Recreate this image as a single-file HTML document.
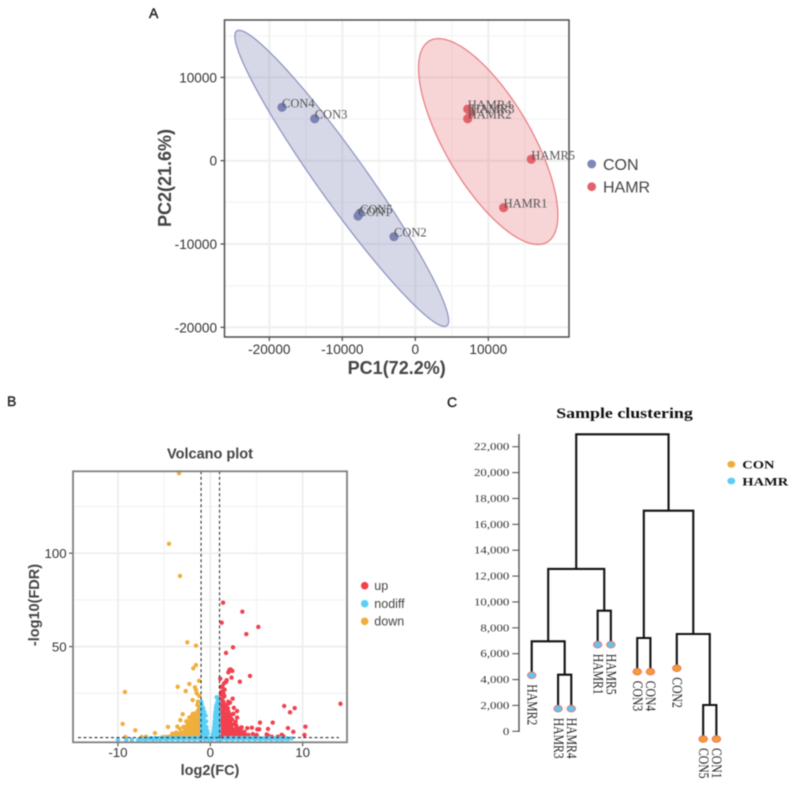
<!DOCTYPE html>
<html lang="en">
<head>
<meta charset="utf-8">
<title>PCA, volcano plot and sample clustering</title>
<style>
html,body{margin:0;padding:0;background:#fff;}
#figure{display:block;width:797px;height:786px;filter:blur(0.4px);}
text{font-family:"Liberation Sans",sans-serif;}
.serif{font-family:"Liberation Serif",serif;}
</style>
</head>
<body>
<svg id="figure" xmlns="http://www.w3.org/2000/svg" width="797" height="786" viewBox="0 0 797 786">
  <g id="panelA"></g>
  <g id="panelB"></g>
  <g id="panelC"></g>
</svg>
<script>
/* ---------- Panel A data ---------- */
const conNames=['CON1','CON2','CON3','CON4','CON5'];
const conPC1=[-7850,-2920,-13780,-18260,-7570];
const conPC2=[-6640,-9120,5040,6410,-6310];
const hamrNames=['HAMR1','HAMR2','HAMR3','HAMR4','HAMR5'];
const hamrPC1=[12100,7180,7590,7180,15890];
const hamrPC2=[-5640,5040,5720,6200,170];
const pcaXTicks=[-20000,-10000,0,10000];
const pcaYTicks=[-20000,-10000,0,10000];
const pcaXMinor=[-15000,-5000,5000,15000];
const pcaYMinor=[-15000,-5000,5000,15000];

/* ---------- Panel B data: [log2(FC), -log10(FDR)] ---------- */
const volcanoXTicks=[-10,0,10];
const volcanoYTicks=[50,100];
const volcanoXMinor=[-5,5];
const volcanoYMinor=[25,75,125];
const fcCutoffs=[-1,1];
const fdrCutoff=1.3;
const upPoints=[[1.38,73.5],[3.47,68.7],[1.23,62.8],[5.2,60.5],[3.9,56.7],[2.46,49.6],[1.7,46.6],[2.06,37.5],[2.2,37.8],[2.38,37],[1.95,36.2],[4.3,34.3],[2.3,33.4],[1.08,32.8],[3.2,31.2],[1.7,31.2],[1.48,30.3],[1.3,28.5],[1.13,28.5],[1.77,32],[1.23,25.9],[1.41,25],[1.48,23.2],[2.42,22.1],[1.95,20.5],[14.1,19.4],[8,18.2],[9.14,17.1],[8.63,14.8],[5.38,9.3],[6.76,9.3],[10.3,7.1],[8.41,6.4],[4,6.3],[4.5,6.6],[6.25,5.9],[8.99,4.4],[5.09,5.7],[5.3,5.7],[10.2,2.7],[5.02,2.7],[6.1,3],[6.28,2.3],[6.65,1.8],[7.73,2.8],[7.9,2.1],[7.3,1.8],[1.52,23.6],[2.13,20],[1.95,19.6],[1.59,18.8],[1.12,18.8],[1.3,17],[1.66,16.4],[1.95,15.2],[1.41,15.2],[1.16,15.2],[2.13,12.5],[1.59,12.5],[1.23,12.5],[2.74,9.8],[1.95,9.8],[1.41,9.8],[1.16,9.8],[1.77,8],[2.24,8],[3.39,6.8],[3.03,6.25],[2.67,5.7],[2.13,5.4],[1.59,5.4],[1.23,5.4],[1.16,7.1],[1.77,3.6],[2.24,3.6],[2.6,3.6],[3.03,3.6],[3.39,3.6],[3.75,2.7],[4.12,2.7],[1.23,2.7],[1.52,2.1],[1.88,2.1],[2.24,2.1],[2.67,2.1],[3.21,2.1],[1.59,7.1],[1.95,6.8],[1.23,17.9],[1.41,20.5],[1.23,21.8],[1.05,20],[1.05,17],[1.05,14],[1.05,11],[1.05,8],[1.05,5],[1.05,2.5],[1.35,14],[1.35,11.5],[1.5,10.5],[1.75,11],[1.85,13.5],[2,11.5],[2.35,11],[2.5,14],[2.9,12],[1.2,9],[1.7,18],[1.6,4],[1.9,4.6],[2.4,5],[2.9,4.5],[3.3,5],[3.7,4.3],[4.6,3.2],[4.8,2],[3.5,1.8],[2.9,1.7],[1.4,6.5],[1.45,3.5],[1.1,4],[1.08,16],[1.12,12.8],[1.1,9.4],[1.08,6.4],[1.3,19.2],[1.28,15.8],[1.27,13.4],[1.3,10.8],[1.3,8.2],[1.32,4.4],[1.5,17.4],[1.55,14],[1.52,11.6],[1.5,8.8],[1.52,6],[1.55,2.9],[1.72,13.6],[1.7,10],[1.72,6.2],[1.72,2.4],[1.9,11],[1.9,8.4],[1.9,5.8],[2.05,2.9],[2.1,7],[2.15,10],[2.28,13.6],[2.3,6.4],[2.45,8.4],[2.5,4.4],[2.55,2.4],[2.8,7.8],[2.82,3],[3.1,2.8],[3.4,2.6],[1.15,24.2],[1.55,27],[1.9,17],[2.55,17.2],[2.9,15.5]];
const nodiffPoints=[[-0.97,20.5],[-0.93,19],[-0.95,17.5],[-0.75,17],[-0.9,16],[-0.65,15],[-0.85,14.5],[-0.95,14.5],[-0.5,13],[-0.8,13],[-0.93,13],[-0.75,11.5],[-0.88,11.5],[-0.97,11],[-0.45,10],[-0.7,10],[-0.85,10],[-0.95,9],[-0.65,8.5],[-0.8,8.5],[-0.42,7],[-0.6,7],[-0.72,7],[-0.88,7],[-0.97,6.5],[-0.55,5.5],[-0.68,5.5],[-0.8,5.5],[-0.92,5],[-0.35,5],[-0.48,4],[-0.6,4],[-0.75,4],[-0.88,3.8],[-0.3,3.5],[-0.42,2.8],[-0.55,2.8],[-0.7,2.8],[-0.85,2.6],[-0.35,1.8],[-0.5,1.8],[-0.65,1.8],[-0.8,1.7],[-0.95,1.8],[0.69,22.9],[0.82,21.5],[0.75,20],[0.92,20],[0.65,18.5],[0.85,18],[0.6,17],[0.75,16.8],[0.93,16.5],[0.55,15],[0.7,15],[0.87,15],[0.52,13.5],[0.66,13.5],[0.8,13.5],[0.95,13],[0.5,12],[0.63,12],[0.78,11.8],[0.92,11.5],[0.47,10],[0.6,10],[0.75,10],[0.9,10],[0.45,8.5],[0.58,8.5],[0.72,8.5],[0.87,8.3],[0.42,7],[0.55,7],[0.7,7],[0.85,7],[0.96,7],[0.38,5.5],[0.52,5.5],[0.66,5.5],[0.8,5.5],[0.94,5.2],[0.33,4],[0.48,4],[0.62,4],[0.78,4],[0.92,3.8],[0.28,2.8],[0.42,2.8],[0.58,2.8],[0.72,2.7],[0.88,2.6],[0.22,1.8],[0.38,1.8],[0.55,1.8],[0.7,1.8],[0.85,1.7],[-10,0.2],[-9.1,0.1],[-8.5,0.2],[-7.8,0.1],[-7.4,0.5],[-7,0.3],[-6.6,0.6],[-6.2,0.3],[-5.8,0.5],[-5.4,0.3],[-5,0.7],[-4.7,0.3],[-4.4,0.8],[-4.1,0.4],[-3.8,0.9],[-3.5,0.4],[-3.2,0.9],[-2.9,0.4],[-2.6,0.9],[-2.3,0.4],[-2,0.9],[-1.7,0.4],[-1.4,0.9],[-1.1,0.4],[-0.9,0.9],[-0.6,0.4],[-0.4,0.9],[-0.2,0.4],[0,0.7],[0.2,0.4],[0.4,0.9],[0.7,0.4],[0.9,0.9],[1.2,0.4],[1.5,0.9],[1.8,0.4],[2.1,0.9],[2.4,0.4],[2.7,0.9],[3,0.4],[3.3,0.9],[3.6,0.4],[3.9,0.9],[4.2,0.4],[4.5,0.9],[4.8,0.4],[5.1,0.8],[5.4,0.4],[5.7,0.8],[6,0.4],[6.3,0.8],[6.6,0.4],[6.9,0.8],[7.2,0.4],[7.5,0.7],[7.8,0.4],[8.1,0.7],[8.4,0.5],[8.8,0.9],[-6.8,0.9],[-6.4,1],[-6,1],[-5.6,1],[-5.2,1],[-4.8,1.1],[-4.2,1.1],[-3.6,1.1],[-3,1.1],[-2.4,1.1],[-1.8,1.1],[-1.2,1.1],[1,1.1],[1.6,1.1],[2.3,1.1],[2.9,1.1],[3.5,1.1],[4.1,1.1],[4.7,1.1],[5.3,1.1],[5.9,1],[6.5,1],[7.1,1],[7.7,1],[8.3,0.9]];
const downPoints=[[-3.39,142.8],[-4.47,105],[-3.28,87.8],[-2.49,52.3],[-1.55,50.5],[-1.55,40.1],[-1.84,38.4],[-1.22,31.7],[-2.27,30],[-3.53,28.5],[-9.24,25.7],[-1.66,28.2],[-1.55,26.8],[-2.66,26.2],[-1.47,25],[-1.19,23.6],[-1.91,21.4],[-1.34,20.5],[-1.41,18.8],[-1.19,17.5],[-2.99,13.8],[-9.49,8.6],[-8.12,5.2],[-5.99,3.7],[-4.58,7],[-3.57,7.2],[-3.24,10.7],[-2.43,9.8],[-9.2,1.6],[-7.43,1.6],[-6.96,1.8],[-1.05,2],[-1.05,4.5],[-1.05,7],[-1.05,9.5],[-1.05,12],[-1.05,14.5],[-1.05,17],[-1.3,2.1],[-1.3,4.5],[-1.3,7.2],[-1.28,9.5],[-1.3,12.1],[-1.33,14.5],[-1.3,16],[-1.55,2.2],[-1.55,5],[-1.57,7.5],[-1.55,10],[-1.53,12.5],[-1.55,14.5],[-1.8,2],[-1.8,4.5],[-1.78,7],[-1.8,9.5],[-1.82,12],[-1.9,14],[-2.05,2.2],[-2.05,5],[-2.05,7.5],[-2.07,10],[-2.05,12.5],[-2.3,2],[-2.3,4.5],[-2.32,7],[-2.3,9.5],[-2.28,12],[-2.55,2.2],[-2.55,4.8],[-2.55,7.5],[-2.6,10],[-2.8,2],[-2.8,4.5],[-2.9,7],[-3.1,2],[-3.1,4],[-3.3,6],[-3.4,2],[-3.7,2],[-3.7,4],[-4,2],[-4.3,2],[-4.1,3.4],[-4.6,1.7],[-4.9,1.6],[-5.2,1.5],[-3.3,3.5],[-2.75,5.8],[-1.15,3.2],[-1.17,5.8],[-1.16,8.3],[-1.18,10.8],[-1.17,13.2],[-1.18,15.8],[-1.43,3.4],[-1.42,5.9],[-1.43,8.5],[-1.42,11],[-1.44,13.4],[-1.68,3.2],[-1.67,6],[-1.68,8.6],[-1.68,11.2],[-1.93,3.4],[-1.92,5.9],[-1.93,8.4],[-1.92,11],[-2.18,3.2],[-2.18,6],[-2.18,8.6],[-2.42,3.4],[-2.42,5.8],[-2.42,8.2],[-2.68,3.4],[-2.68,6.4],[-2.95,3.2],[-3.25,2.8],[-3.55,3],[-3.85,3]];

/* ---------- Panel C data ---------- */
const clusterTicks=[0,2000,4000,6000,8000,10000,12000,14000,16000,18000,20000,22000];
const leafNames=['HAMR2','HAMR3','HAMR4','HAMR1','HAMR5','CON3','CON4','CON2','CON5','CON1'];
const leafSlots=[0,2,3,5,6,8,9,11,13,14];
const leafHeights=[4330,1747,1747,6695,6695,4608,4608,4870,-595,-595];
const leafGroups=['HAMR','HAMR','HAMR','HAMR','HAMR','CON','CON','CON','CON','CON'];
/* merge children: 0-9 = leaves, 10+ = earlier merges */
const mergeLeft=[1,0,3,11,5,8,7,14,13];
const mergeRight=[2,10,4,12,6,9,15,16,17];
const mergeHeights=[4376,6958,9324,12550,7213,2033,7522,17055,22960];

/* ---------- Helpers ---------- */
const NS='http://www.w3.org/2000/svg';
const A=document.getElementById('panelA'),B=document.getElementById('panelB'),C=document.getElementById('panelC');
function el(parent,tag,attrs,txt){
  const n=document.createElementNS(NS,tag);
  for(const k in attrs)n.setAttribute(k,attrs[k]);
  if(txt!==undefined)n.textContent=txt;
  parent.appendChild(n);
  return n;
}
function fmt(v){return v.toLocaleString('en-US');}
let e;

/* ---------- Panel A ---------- */
const pcaX=v=>415.3+v*73/10000;
const pcaY=v=>160.7-v*83.3/10000;
const pL=224.5,pR=569,pT=20,pB=337;
e=el(A,'text',{x:149,y:18,'font-size':14,fill:'#222',stroke:'#222','stroke-width':0.4},'A');


pcaXMinor.forEach(v=>{
  e=el(A,'line',{x1:pcaX(v),x2:pcaX(v),y1:pT,y2:pB,stroke:'#f5f5f5','stroke-width':1.4});
  
  
});
pcaYMinor.forEach(v=>{
  e=el(A,'line',{x1:pL,x2:pR,y1:pcaY(v),y2:pcaY(v),stroke:'#f5f5f5','stroke-width':1.4});
  
  
});
pcaXTicks.forEach(v=>{
  e=el(A,'line',{x1:pcaX(v),x2:pcaX(v),y1:pT,y2:pB,stroke:'#efefef','stroke-width':2});
  
  
  e=el(A,'line',{x1:pcaX(v),x2:pcaX(v),y1:pB,y2:pB+4,stroke:'#444','stroke-width':1.2});
  
  
  e=el(A,'text',{x:pcaX(v),y:354,'font-size':13.6,fill:'#333','text-anchor':'middle'},String(v));
  
  
});
pcaYTicks.forEach(v=>{
  e=el(A,'line',{x1:pL,x2:pR,y1:pcaY(v),y2:pcaY(v),stroke:'#efefef','stroke-width':2});
  
  
  e=el(A,'line',{x1:pL-4,x2:pL,y1:pcaY(v),y2:pcaY(v),stroke:'#444','stroke-width':1.2});
  
  
  e=el(A,'text',{x:pL-7.5,y:pcaY(v)+5,'font-size':13.6,fill:'#333','text-anchor':'end'},String(v));
  
  
});
function ellipsePath(xs,ys){
  const n=xs.length,mx=xs.reduce((a,b)=>a+b,0)/n,my=ys.reduce((a,b)=>a+b,0)/n;
  let sxx=0,syy=0,sxy=0;
  xs.forEach((x,i)=>{sxx+=(x-mx)*(x-mx);syy+=(ys[i]-my)*(ys[i]-my);sxy+=(x-mx)*(ys[i]-my);});
  sxx/=n-1;syy/=n-1;sxy/=n-1;
  const sx=Math.sqrt(sxx),sy=Math.sqrt(syy),rho=sxy/(sx*sy),r=Math.sqrt(5.991);
  let d='';
  for(let i=0;i<=180;i++){
    const t=i/180*2*Math.PI;
    const x=mx+r*sx*Math.cos(t);
    const y=my+r*sy*(rho*Math.cos(t)+Math.sqrt(1-rho*rho)*Math.sin(t));
    d+=(i?'L':'M')+pcaX(x).toFixed(2)+' '+pcaY(y).toFixed(2);
  }
  return d+'Z';
}
e=el(A,'path',{d:ellipsePath(conPC1,conPC2),fill:'rgba(127,134,181,0.32)',stroke:'#8b90c0','stroke-width':1.2});


e=el(A,'path',{d:ellipsePath(hamrPC1,hamrPC2),fill:'rgba(228,100,106,0.28)',stroke:'#e97a7d','stroke-width':1.2});


e=el(A,'rect',{x:pL,y:pT,width:pR-pL,height:pB-pT,fill:'none',stroke:'#4d4d4d','stroke-width':1.5});


conNames.forEach((nm,i)=>{
  e=el(A,'circle',{cx:pcaX(conPC1[i]),cy:pcaY(conPC2[i]),r:4.6,fill:'#7b82b4'});
  
  
});
hamrNames.forEach((nm,i)=>{
  e=el(A,'circle',{cx:pcaX(hamrPC1[i]),cy:pcaY(hamrPC2[i]),r:4.6,fill:'#e3626a'});
  
  
});
conNames.forEach((nm,i)=>{
  e=el(A,'text',{x:pcaX(conPC1[i]),y:pcaY(conPC2[i]),'font-size':12.5,fill:'#555','class':'serif'},nm);
  
  
});
hamrNames.forEach((nm,i)=>{
  e=el(A,'text',{x:pcaX(hamrPC1[i]),y:pcaY(hamrPC2[i]),'font-size':12.5,fill:'#555','class':'serif'},nm);
  
  
});
e=el(A,'text',{x:396.7,y:374,'font-size':18,'font-weight':'bold',fill:'#444','text-anchor':'middle'},'PC1(72.2%)');


e=el(A,'text',{transform:'translate(171,178) rotate(-90)','font-size':18,'font-weight':'bold',fill:'#444','text-anchor':'middle'},'PC2(21.6%)');


e=el(A,'circle',{cx:591.7,cy:164,r:4.4,fill:'#7f86b8'});


e=el(A,'text',{x:603,y:170,'font-size':16,fill:'#444'},'CON');


e=el(A,'circle',{cx:591.7,cy:186.7,r:4.4,fill:'#e3626a'});


e=el(A,'text',{x:603,y:192.7,'font-size':16,fill:'#444'},'HAMR');



/* ---------- Panel B ---------- */
const volX=v=>210.3+v*9.235;
const volY=v=>740-v*1.868;
const vL=73,vR=347,vT=471.3,vB=742.3;
e=el(B,'text',{x:7,y:406,'font-size':14,fill:'#222',stroke:'#222','stroke-width':0.4},'B');


e=el(B,'text',{x:210,y:458.3,'font-size':14.5,'font-weight':'bold',fill:'#444','text-anchor':'middle'},'Volcano plot');


volcanoXMinor.forEach(v=>{
  e=el(B,'line',{x1:volX(v),x2:volX(v),y1:vT,y2:vB,stroke:'#f2f2f2','stroke-width':1.1});
  
  
});
volcanoYMinor.forEach(v=>{
  e=el(B,'line',{x1:vL,x2:vR,y1:volY(v),y2:volY(v),stroke:'#f2f2f2','stroke-width':1.1});
  
  
});
volcanoXTicks.forEach(v=>{
  e=el(B,'line',{x1:volX(v),x2:volX(v),y1:vT,y2:vB,stroke:'#ededed','stroke-width':1.7});
  
  
  e=el(B,'line',{x1:volX(v),x2:volX(v),y1:vB,y2:vB+4,stroke:'#444','stroke-width':1.1});
  
  
  e=el(B,'text',{x:volX(v),y:757,'font-size':13.3,fill:'#333','text-anchor':'middle'},String(v));
  
  
});
volcanoYTicks.forEach(v=>{
  e=el(B,'line',{x1:vL,x2:vR,y1:volY(v),y2:volY(v),stroke:'#ededed','stroke-width':1.7});
  
  
  e=el(B,'line',{x1:vL-4,x2:vL,y1:volY(v),y2:volY(v),stroke:'#444','stroke-width':1.1});
  
  
  e=el(B,'text',{x:66.7,y:volY(v)+4.8,'font-size':13.3,fill:'#333','text-anchor':'end'},String(v));
  
  
});
upPoints.forEach(p=>{
  e=el(B,'circle',{cx:volX(p[0]),cy:volY(p[1]),r:2.2,fill:'#f2404e'});
  
  
});
downPoints.forEach(p=>{
  e=el(B,'circle',{cx:volX(p[0]),cy:volY(p[1]),r:2.2,fill:'#f0ae3c'});
  
  
});
nodiffPoints.forEach(p=>{
  e=el(B,'circle',{cx:volX(p[0]),cy:volY(p[1]),r:2.2,fill:'#5ccff7'});
  
  
});
fcCutoffs.forEach(v=>{
  e=el(B,'line',{x1:volX(v),x2:volX(v),y1:vT,y2:vB,stroke:'#333','stroke-width':1.1,'stroke-dasharray':'3 2.5'});
  
  
});
e=el(B,'line',{x1:78,x2:339,y1:volY(fdrCutoff),y2:volY(fdrCutoff),stroke:'#333','stroke-width':1.1,'stroke-dasharray':'3 2.5'});


e=el(B,'rect',{x:vL,y:vT,width:vR-vL,height:vB-vT,fill:'none',stroke:'#808080','stroke-width':1.8});


e=el(B,'text',{x:210,y:775,'font-size':14.5,'font-weight':'bold',fill:'#444','text-anchor':'middle'},'log2(FC)');


e=el(B,'text',{transform:'translate(39,605) rotate(-90)','font-size':14.5,'font-weight':'bold',fill:'#444','text-anchor':'middle'},'-log10(FDR)');


e=el(B,'circle',{cx:364.7,cy:585.7,r:3.8,fill:'#f2404e'});


e=el(B,'text',{x:374.3,y:590,'font-size':12.5,fill:'#444'},'up');


e=el(B,'circle',{cx:364.7,cy:603.7,r:3.8,fill:'#5ccff7'});


e=el(B,'text',{x:374.3,y:608,'font-size':12.5,fill:'#444'},'nodiff');


e=el(B,'circle',{cx:364.7,cy:621.3,r:3.8,fill:'#f0ae3c'});


e=el(B,'text',{x:374.3,y:625.6,'font-size':12.5,fill:'#444'},'down');



/* ---------- Panel C ---------- */
const cluY=v=>731.3-v*25.87/2000;
const cluX=s=>531.7+s*13.19;
const stretch=1.26;
e=el(C,'text',{x:447,y:407,'font-size':14,fill:'#222',stroke:'#222','stroke-width':0.4},'C');


e=el(C,'text',{transform:'translate(624.5,418) scale('+stretch+',1)','font-size':14.2,'font-weight':'bold',fill:'#111','text-anchor':'middle','class':'serif'},'Sample clustering');


e=el(C,'line',{x1:519,x2:519,y1:434,y2:cluY(0)+0.7,stroke:'#555','stroke-width':1.4});


clusterTicks.forEach(v=>{
  e=el(C,'line',{x1:512.3,x2:519,y1:cluY(v),y2:cluY(v),stroke:'#555','stroke-width':1.1});
  
  
  e=el(C,'text',{transform:'translate(509.3,'+(cluY(v)+3.5)+') scale('+stretch+',1)','font-size':10.2,fill:'#333','text-anchor':'end','class':'serif'},fmt(v));
  
  
});
const nodeX=leafSlots.map(cluX);
const nodeY=leafHeights.map(cluY);
mergeHeights.forEach((h,i)=>{
  const a=mergeLeft[i],b=mergeRight[i];
  const xa=nodeX[a],xb=nodeX[b],y=cluY(h);
  nodeX[10+i]=(xa+xb)/2;
  nodeY[10+i]=y;
  e=el(C,'path',{d:'M'+xa+' '+nodeY[a]+'V'+y+'H'+xb+'V'+nodeY[b],fill:'none',stroke:'#111','stroke-width':2.1});
  
  
});
leafNames.forEach((nm,i)=>{
  const isCon=leafGroups[i]==='CON';
  e=el(C,'ellipse',{cx:nodeX[i],cy:nodeY[i],rx:4.2,ry:3.3,fill:isCon?'#f0a030':'#5cc8f0',stroke:'#f2706c','stroke-width':1});
  
  
  e=el(C,'text',{transform:'translate('+(nodeX[i]-4.2)+','+(nodeY[i]+9)+') scale('+stretch+',1) rotate(90)','font-size':11.7,fill:'#222','class':'serif'},nm);
  
  
});
e=el(C,'ellipse',{cx:731.3,cy:464.3,rx:4,ry:3.4,fill:'#f0ad3c'});


e=el(C,'text',{transform:'translate(742.3,468.7) scale('+stretch+',1)','font-size':11.5,'font-weight':'bold',fill:'#111','class':'serif'},'CON');


e=el(C,'ellipse',{cx:731.3,cy:481,rx:4,ry:3.4,fill:'#5dcdf5'});


e=el(C,'text',{transform:'translate(742.3,485.3) scale('+stretch+',1)','font-size':11.5,'font-weight':'bold',fill:'#111','class':'serif'},'HAMR');


</script>
</body>
</html>
